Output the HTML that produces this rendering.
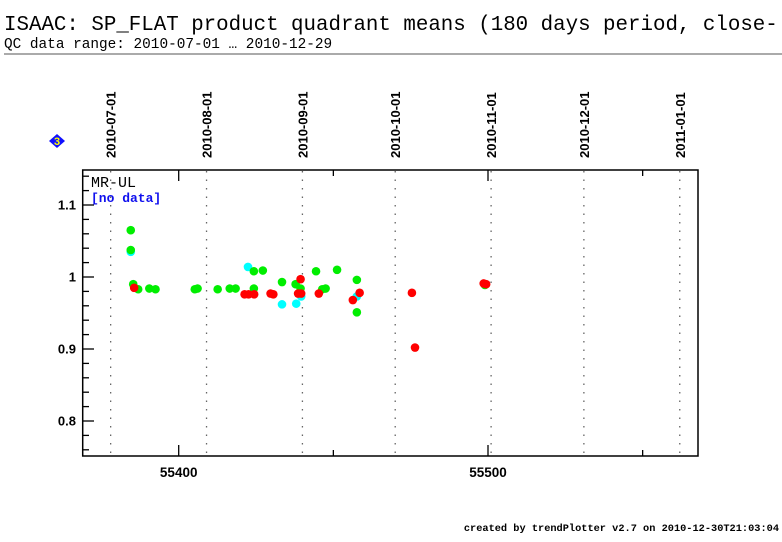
<!DOCTYPE html>
<html><head><meta charset="utf-8"><style>
html,body{margin:0;padding:0;background:#fff;}
svg{display:block;}
</style></head><body>
<svg id="chart" width="782" height="542" xmlns="http://www.w3.org/2000/svg">
<text x="4" y="30" font-family="Liberation Mono, monospace" font-size="20.8">ISAAC: SP_FLAT product quadrant means (180 days period, close-</text>
<text x="4" y="48" font-family="Liberation Mono, monospace" font-size="14.4">QC data range: 2010-07-01 … 2010-12-29</text>
<line x1="4" y1="54" x2="782" y2="54" stroke="#555" stroke-width="1"/>
<g><polygon points="57,134 65,141 57,148 49,141" fill="#1010ff"/>
<text x="57" y="145" text-anchor="middle" font-family="Liberation Sans, sans-serif" font-size="11" font-weight="bold" fill="#ff0">3</text></g>
<g id="grid"></g><g id="axes"></g><g id="pts"></g>
<rect x="82.7" y="170" width="615.3" height="286" fill="none" stroke="#000" stroke-width="1.5"/>
<text x="91" y="187" font-family="Liberation Mono, monospace" font-size="15">MR-UL</text>
<text x="91" y="202" font-family="Liberation Mono, monospace" font-size="13" font-weight="bold" fill="#1010ee">[no data]</text>
<text x="779" y="531" text-anchor="end" font-family="Liberation Mono, monospace" font-size="10.3" font-weight="bold">created by trendPlotter v2.7 on 2010-12-30T21:03:04</text>
</svg>
<script>
const dateLabels=["2010-07-01","2010-08-01","2010-09-01","2010-10-01","2010-11-01","2010-12-01","2011-01-01"];
const dateMjd=[55378,55409,55440,55470,55501,55531,55562];
const xTicks=[55400,55500];
const yTicks=[0.8,0.9,1.0,1.1];
const greenMjd=[55384.5,55384.5,55385.3,55386.9,55390.5,55392.5,55405.2,55406.1,55412.6,55416.5,55418.4,55424.3,55427.2,55424.3,55433.4,55437.8,55439.4,55444.4,55446.4,55447.5,55451.2,55457.6,55457.6,55499];
const greenVal=[1.065,1.0375,0.990,0.983,0.984,0.983,0.983,0.984,0.983,0.984,0.984,1.008,1.009,0.984,0.993,0.990,0.984,1.008,0.983,0.984,1.010,0.996,0.951,0.989];
const cyanMjd=[55384.5,55422.4,55433.4,55438,55439.6,55457.6];
const cyanVal=[1.035,1.014,0.962,0.963,0.973,0.973];
const redMjd=[55385.6,55421.3,55422.6,55424.4,55429.7,55430.6,55438.6,55439.6,55439.4,55445.3,55456.3,55458.5,55475.4,55476.4,55498.6,55499.4];
const redVal=[0.985,0.976,0.976,0.976,0.977,0.976,0.977,0.977,0.997,0.977,0.968,0.978,0.978,0.902,0.991,0.990];
const NS="http://www.w3.org/2000/svg";
const X=m=>178.7+(m-55400)*3.093;
const Y=v=>277-(v-1)*720;
function mk(tag,attrs,parent){const e=document.createElementNS(NS,tag);for(const k in attrs)e.setAttribute(k,attrs[k]);document.getElementById(parent).appendChild(e);return e;}
dateMjd.forEach((m,i)=>{
 const l=mk('line',{x1:X(m),y1:171,x2:X(m),y2:455,stroke:'#666','stroke-width':1.3,'stroke-dasharray':'1.5,7'},'grid');
 
 
 const t=mk('text',{x:0,y:0,transform:`translate(${X(m)+5},158) rotate(-90)`,'font-family':'Liberation Sans, sans-serif','font-size':13,'font-weight':'bold'},'grid');
 t.textContent=dateLabels[i];
 
 
});
for(let m=55400;m<=55550;m+=50){
 const big=(m%100===0);
 const b=mk('line',{x1:X(m),y1:456,x2:X(m),y2:big?445:450,stroke:'#000','stroke-width':1.3},'axes');
 
 
 const tt=mk('line',{x1:X(m),y1:170,x2:X(m),y2:big?181:176,stroke:'#000','stroke-width':1.3},'axes');
 
 
}
xTicks.forEach(m=>{
 const t=mk('text',{x:X(m),y:477,'text-anchor':'middle','font-family':'Liberation Sans, sans-serif','font-size':13.5,'font-weight':'bold'},'axes');
 t.textContent=String(m);
 
 
});
for(let k=38;k<=57;k++){
 const v=k*0.02;const y=Y(v);if(y<170||y>456)continue;
 const big=(k%5===0);
 const l=mk('line',{x1:82.7,y1:y,x2:big?94:89,y2:y,stroke:'#000','stroke-width':1.3},'axes');
 
 
}
yTicks.forEach(v=>{
 const t=mk('text',{x:76,y:Y(v)+4.5,'text-anchor':'end','font-family':'Liberation Sans, sans-serif','font-size':13,'font-weight':'bold'},'axes');
 t.textContent=(v===1?'1':String(v));
 
 
});
function series(ms,vs,col,name){ms.forEach((m,i)=>{
 const c=mk('circle',{cx:X(m),cy:Y(vs[i]),r:4.3,fill:col},'pts');
 
 
});}
series(cyanMjd,cyanVal,'#00ffff','cyan-point');
series(greenMjd,greenVal,'#00ee00','green-point');
series(redMjd,redVal,'#ff0000','red-point');
</script>
</body></html>
